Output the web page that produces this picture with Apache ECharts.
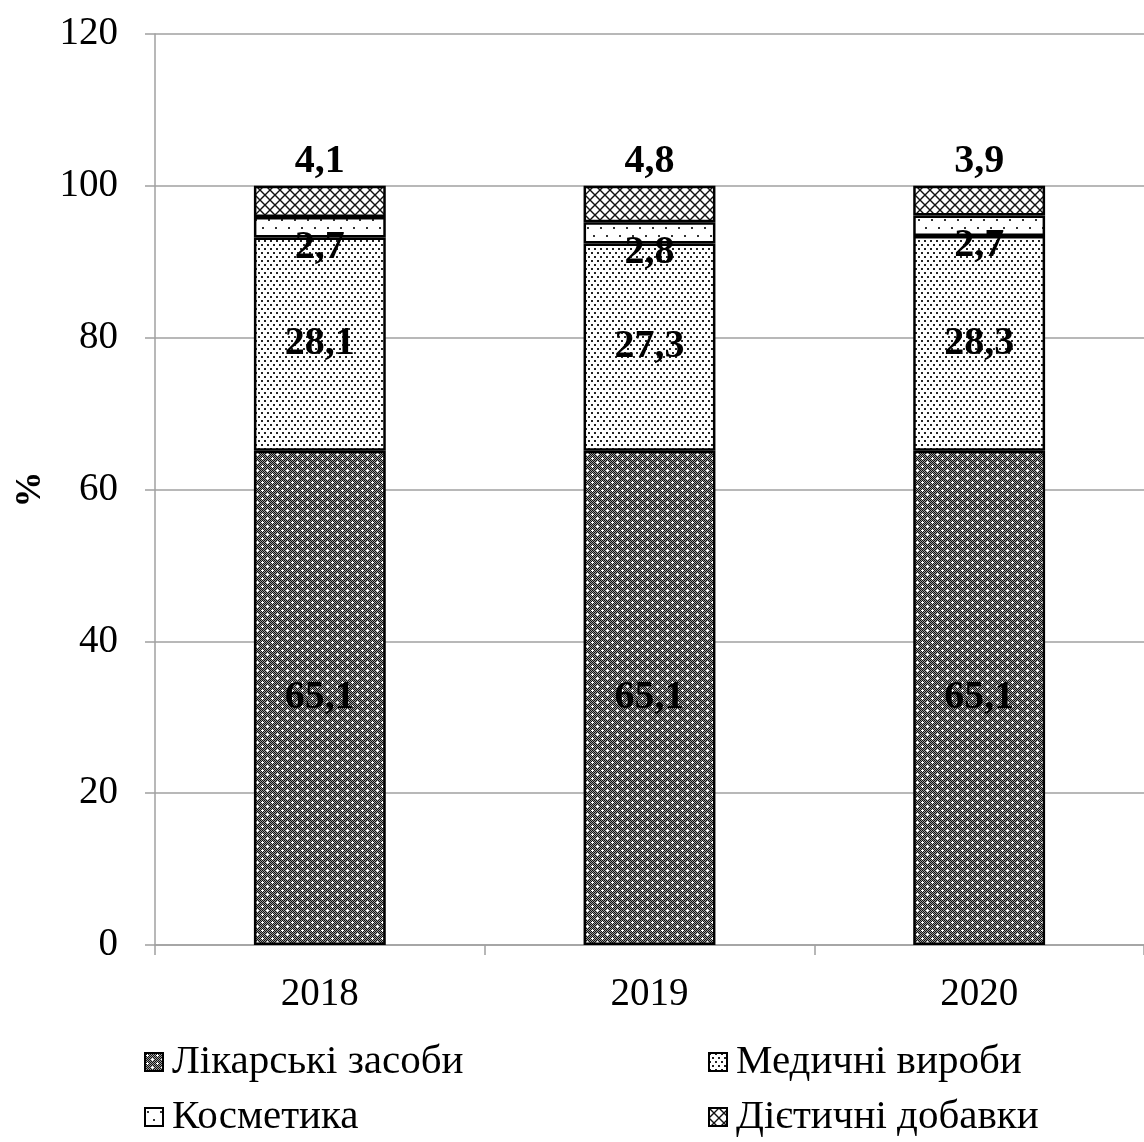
<!DOCTYPE html>
<html><head><meta charset="utf-8">
<script src="https://cdn.jsdelivr.net/npm/echarts@6/dist/echarts.min.js"></script>
<style>html,body{margin:0;padding:0;background:#fff}#c{width:1144px;height:1142px}</style>
</head><body><div id="c"></div>
<script>
const categories = ['2018', '2019', '2020'];
const seriesNames = ['Лікарські засоби', 'Медичні вироби', 'Косметика', 'Дієтичні добавки'];
const medicines = [65.1, 65.1, 65.1];
const medicalProducts = [28.1, 27.3, 28.3];
const cosmetics = [2.7, 2.8, 2.7];
const supplements = [4.1, 4.8, 3.9];
const yTicks = { min: 0, max: 120, interval: 20 };

function makePattern(w, h, draw) {
  const c = document.createElement('canvas');
  c.width = w; c.height = h;
  const ctx = c.getContext('2d');
  ctx.fillStyle = '#fff'; ctx.fillRect(0, 0, w, h);
  draw(ctx, w, h);
  return { image: c, repeat: 'repeat' };
}
const pMed = makePattern(10, 8, (ctx, w, h) => {
  for (let y = 0; y < h; y++) for (let x = 0; x < w; x++) {
    ctx.fillStyle = ((x + y) % 2 === 0) ? '#111' : '#9a9a9a';
    ctx.fillRect(x, y, 1, 1);
  }
  ctx.fillStyle = '#fff';
  [[2, 2], [7, 6]].forEach(([x, y]) => {
    ctx.fillRect(x - 1, y, 3, 1); ctx.fillRect(x, y - 1, 1, 3);
  });
});
const pProd = makePattern(6, 8, (ctx) => {
  ctx.fillStyle = '#222';
  ctx.fillRect(0, 0, 2, 2); ctx.fillRect(3, 4, 2, 2);
});
const pCos = makePattern(13, 16, (ctx) => {
  ctx.fillStyle = '#333';
  ctx.fillRect(2, 3, 2, 2); ctx.fillRect(8, 11, 2, 2);
});
const pSup = makePattern(10, 10, (ctx, w, h) => {
  ctx.strokeStyle = '#111'; ctx.lineWidth = 1.4;
  ctx.beginPath();
  ctx.moveTo(-1, -1); ctx.lineTo(w + 1, h + 1);
  ctx.moveTo(w + 1, -1); ctx.lineTo(-1, h + 1);
  ctx.stroke();
});
const fills = [pMed, pProd, pCos, pSup];
const datasets = [medicines, medicalProducts, cosmetics, supplements];
const fmt = v => String(v).replace('.', ',');
const FONT = '"Liberation Serif", "Times New Roman", serif';

const labelCfg = [
  { show: true, position: 'inside' },
  { show: true, position: 'inside' },
  { show: true, position: 'inside', offset: [0, 20] },
  { show: true, position: 'top', distance: 4 }
];

const legendBase = {
  orient: 'vertical', top: 1040, padding: 0,
  icon: 'rect', itemWidth: 18, itemHeight: 18, itemGap: 11,
  itemStyle: { borderColor: '#000', borderWidth: 2 },
  textStyle: { color: '#000', fontFamily: FONT, fontSize: 41, lineHeight: 44, padding: [0, 0, 0, 4] }
};

const chart = echarts.init(document.getElementById('c'));
chart.setOption({
  animation: false,
  backgroundColor: '#fff',
  grid: { left: 155, right: -9, top: 34, bottom: 197 },
  xAxis: {
    type: 'category', data: categories,
    axisLine: { lineStyle: { color: '#a0a0a0', width: 1.5 } },
    axisTick: { show: true, length: 10, lineStyle: { color: '#a0a0a0', width: 1.5 } },
    axisLabel: { margin: 30, color: '#000', fontFamily: FONT, fontSize: 39 }
  },
  yAxis: {
    type: 'value', min: yTicks.min, max: yTicks.max, interval: yTicks.interval,
    name: '%', nameLocation: 'middle', nameGap: 104, nameRotate: 90,
    nameTextStyle: { color: '#000', fontFamily: FONT, fontSize: 36, fontWeight: 'bold' },
    axisLine: { show: true, lineStyle: { color: '#a0a0a0', width: 1.5 } },
    axisTick: { show: true, length: 10, lineStyle: { color: '#a0a0a0', width: 1.5 } },
    axisLabel: { margin: 37, color: '#000', fontFamily: FONT, fontSize: 39 },
    splitLine: { show: true, lineStyle: { color: '#a0a0a0', width: 1.5 } }
  },
  legend: [
    Object.assign({ data: [seriesNames[0], seriesNames[2]], left: 144 }, legendBase),
    Object.assign({ data: [seriesNames[1], seriesNames[3]], left: 708 }, legendBase)
  ],
  series: seriesNames.map((name, i) => ({
    name, type: 'bar', stack: 'total', barWidth: '40%',
    data: datasets[i],
    itemStyle: { color: fills[i], borderColor: '#000', borderWidth: 2.5 },
    label: Object.assign({
      color: '#000', fontFamily: FONT, fontSize: 40, fontWeight: 'bold',
      formatter: p => fmt(p.value)
    }, labelCfg[i]),
    emphasis: { disabled: true }
  }))
});
</script></body></html>
